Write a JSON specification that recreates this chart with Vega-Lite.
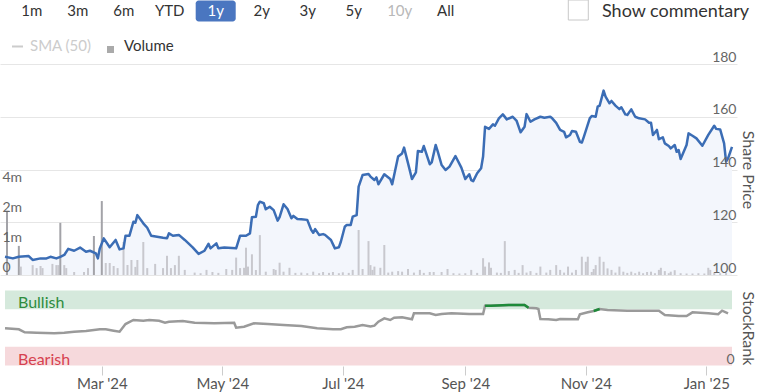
{
  "$schema": "https://vega.github.io/schema/vega-lite/v6.json",
  "width": 737,
  "height": 366,
  "autosize": {"type": "none"},
  "padding": {"left": 0, "top": 0, "right": 21, "bottom": 26},
  "background": "white",
  "config": {"font": "Lato", "view": {"stroke": null}},
  "datasets": {
    "buttons": [
      {"label": "1m", "state": "normal", "row": "nav"},
      {"label": "3m", "state": "normal", "row": "nav"},
      {"label": "6m", "state": "normal", "row": "nav"},
      {"label": "YTD", "state": "normal", "row": "nav"},
      {"label": "1y", "state": "active", "row": "nav"},
      {"label": "2y", "state": "normal", "row": "nav"},
      {"label": "3y", "state": "normal", "row": "nav"},
      {"label": "5y", "state": "normal", "row": "nav"},
      {"label": "10y", "state": "disabled", "row": "nav"},
      {"label": "All", "state": "normal", "row": "nav"}
    ],
    "legend": [
      {"item": "SMA (50)", "state": "off", "row": "legend"},
      {"item": "Volume", "state": "on", "row": "legend"}
    ],
    "commentary": [
      {"label": "Show commentary", "row": "nav"}
    ],
    "bands": [
      {"zone": "Bullish", "lo": 75, "hi": 100},
      {"zone": "Bearish", "lo": 0, "hi": 25}
    ],
    "price": [
      {"date": "2024-01-12", "price": 106.9},
      {"date": "2024-01-16", "price": 106.3},
      {"date": "2024-01-19", "price": 106.9},
      {"date": "2024-01-24", "price": 107.2},
      {"date": "2024-01-26", "price": 105.7},
      {"date": "2024-01-30", "price": 106.3},
      {"date": "2024-02-02", "price": 106.3},
      {"date": "2024-02-04", "price": 106.9},
      {"date": "2024-02-07", "price": 106.3},
      {"date": "2024-02-09", "price": 106.9},
      {"date": "2024-02-11", "price": 107.6},
      {"date": "2024-02-13", "price": 109.9},
      {"date": "2024-02-16", "price": 109.2},
      {"date": "2024-02-19", "price": 110.4},
      {"date": "2024-02-22", "price": 108.8},
      {"date": "2024-02-24", "price": 109.2},
      {"date": "2024-02-27", "price": 108.2},
      {"date": "2024-02-28", "price": 106.3},
      {"date": "2024-02-29", "price": 110.1},
      {"date": "2024-03-02", "price": 113.9},
      {"date": "2024-03-05", "price": 110.5},
      {"date": "2024-03-08", "price": 113.3},
      {"date": "2024-03-10", "price": 109.7},
      {"date": "2024-03-12", "price": 110.1},
      {"date": "2024-03-13", "price": 114.9},
      {"date": "2024-03-15", "price": 114.9},
      {"date": "2024-03-17", "price": 120.2},
      {"date": "2024-03-18", "price": 119.8},
      {"date": "2024-03-19", "price": 122.7},
      {"date": "2024-03-22", "price": 119.6},
      {"date": "2024-03-24", "price": 117.9},
      {"date": "2024-03-26", "price": 114.9},
      {"date": "2024-04-01", "price": 114.1},
      {"date": "2024-04-03", "price": 113.9},
      {"date": "2024-04-04", "price": 115.8},
      {"date": "2024-04-06", "price": 114.9},
      {"date": "2024-04-09", "price": 115.2},
      {"date": "2024-04-12", "price": 113.3},
      {"date": "2024-04-16", "price": 110.5},
      {"date": "2024-04-19", "price": 108.0},
      {"date": "2024-04-22", "price": 109.2},
      {"date": "2024-04-24", "price": 111.8},
      {"date": "2024-04-25", "price": 110.1},
      {"date": "2024-04-28", "price": 112.0},
      {"date": "2024-04-29", "price": 110.1},
      {"date": "2024-05-02", "price": 110.4},
      {"date": "2024-05-08", "price": 110.1},
      {"date": "2024-05-10", "price": 114.9},
      {"date": "2024-05-13", "price": 114.9},
      {"date": "2024-05-15", "price": 115.8},
      {"date": "2024-05-16", "price": 121.9},
      {"date": "2024-05-18", "price": 122.1},
      {"date": "2024-05-19", "price": 126.5},
      {"date": "2024-05-20", "price": 127.8},
      {"date": "2024-05-22", "price": 127.2},
      {"date": "2024-05-23", "price": 124.9},
      {"date": "2024-05-25", "price": 125.9},
      {"date": "2024-05-27", "price": 124.6},
      {"date": "2024-05-29", "price": 120.6},
      {"date": "2024-05-30", "price": 121.9},
      {"date": "2024-06-01", "price": 126.8},
      {"date": "2024-06-03", "price": 125.0},
      {"date": "2024-06-05", "price": 121.5},
      {"date": "2024-06-06", "price": 122.4},
      {"date": "2024-06-08", "price": 121.2},
      {"date": "2024-06-10", "price": 121.1},
      {"date": "2024-06-13", "price": 120.9},
      {"date": "2024-06-15", "price": 117.1},
      {"date": "2024-06-16", "price": 116.0},
      {"date": "2024-06-17", "price": 117.4},
      {"date": "2024-06-19", "price": 115.2},
      {"date": "2024-06-21", "price": 115.5},
      {"date": "2024-06-22", "price": 115.2},
      {"date": "2024-06-25", "price": 113.3},
      {"date": "2024-06-27", "price": 110.1},
      {"date": "2024-06-29", "price": 110.5},
      {"date": "2024-06-30", "price": 112.6},
      {"date": "2024-07-02", "price": 118.3},
      {"date": "2024-07-03", "price": 119.0},
      {"date": "2024-07-05", "price": 119.0},
      {"date": "2024-07-06", "price": 122.1},
      {"date": "2024-07-08", "price": 122.7},
      {"date": "2024-07-09", "price": 133.5},
      {"date": "2024-07-11", "price": 137.9},
      {"date": "2024-07-14", "price": 138.3},
      {"date": "2024-07-15", "price": 137.3},
      {"date": "2024-07-17", "price": 136.0},
      {"date": "2024-07-18", "price": 137.0},
      {"date": "2024-07-19", "price": 134.4},
      {"date": "2024-07-22", "price": 138.2},
      {"date": "2024-07-25", "price": 136.4},
      {"date": "2024-07-26", "price": 134.4},
      {"date": "2024-07-29", "price": 144.9},
      {"date": "2024-07-31", "price": 146.1},
      {"date": "2024-08-01", "price": 148.3},
      {"date": "2024-08-03", "price": 142.4},
      {"date": "2024-08-05", "price": 136.4},
      {"date": "2024-08-07", "price": 138.9},
      {"date": "2024-08-08", "price": 147.0},
      {"date": "2024-08-10", "price": 146.7},
      {"date": "2024-08-11", "price": 148.9},
      {"date": "2024-08-14", "price": 142.0},
      {"date": "2024-08-15", "price": 142.7},
      {"date": "2024-08-17", "price": 149.3},
      {"date": "2024-08-18", "price": 147.0},
      {"date": "2024-08-20", "price": 141.7},
      {"date": "2024-08-22", "price": 139.8},
      {"date": "2024-08-24", "price": 141.1},
      {"date": "2024-08-27", "price": 145.1},
      {"date": "2024-08-30", "price": 140.7},
      {"date": "2024-09-01", "price": 136.4},
      {"date": "2024-09-03", "price": 138.2},
      {"date": "2024-09-04", "price": 136.0},
      {"date": "2024-09-05", "price": 135.6},
      {"date": "2024-09-07", "price": 138.6},
      {"date": "2024-09-09", "price": 140.5},
      {"date": "2024-09-10", "price": 144.9},
      {"date": "2024-09-11", "price": 156.2},
      {"date": "2024-09-13", "price": 155.4},
      {"date": "2024-09-15", "price": 157.1},
      {"date": "2024-09-16", "price": 156.6},
      {"date": "2024-09-18", "price": 159.4},
      {"date": "2024-09-20", "price": 160.9},
      {"date": "2024-09-22", "price": 159.0},
      {"date": "2024-09-25", "price": 160.0},
      {"date": "2024-09-27", "price": 158.4},
      {"date": "2024-09-29", "price": 154.1},
      {"date": "2024-10-01", "price": 156.2},
      {"date": "2024-10-02", "price": 161.0},
      {"date": "2024-10-04", "price": 158.1},
      {"date": "2024-10-06", "price": 159.0},
      {"date": "2024-10-09", "price": 160.0},
      {"date": "2024-10-11", "price": 159.6},
      {"date": "2024-10-14", "price": 160.0},
      {"date": "2024-10-15", "price": 159.4},
      {"date": "2024-10-17", "price": 157.7},
      {"date": "2024-10-19", "price": 155.0},
      {"date": "2024-10-21", "price": 154.3},
      {"date": "2024-10-22", "price": 152.2},
      {"date": "2024-10-24", "price": 153.1},
      {"date": "2024-10-25", "price": 154.6},
      {"date": "2024-10-27", "price": 154.3},
      {"date": "2024-10-29", "price": 150.5},
      {"date": "2024-10-30", "price": 150.2},
      {"date": "2024-10-31", "price": 152.4},
      {"date": "2024-11-03", "price": 159.4},
      {"date": "2024-11-04", "price": 160.3},
      {"date": "2024-11-06", "price": 160.0},
      {"date": "2024-11-07", "price": 163.8},
      {"date": "2024-11-08", "price": 164.2},
      {"date": "2024-11-10", "price": 169.9},
      {"date": "2024-11-11", "price": 167.6},
      {"date": "2024-11-13", "price": 165.1},
      {"date": "2024-11-14", "price": 166.0},
      {"date": "2024-11-16", "price": 164.2},
      {"date": "2024-11-18", "price": 162.9},
      {"date": "2024-11-19", "price": 163.6},
      {"date": "2024-11-21", "price": 160.9},
      {"date": "2024-11-22", "price": 160.7},
      {"date": "2024-11-24", "price": 162.8},
      {"date": "2024-11-26", "price": 160.0},
      {"date": "2024-11-28", "price": 159.4},
      {"date": "2024-12-01", "price": 159.0},
      {"date": "2024-12-03", "price": 157.7},
      {"date": "2024-12-04", "price": 157.7},
      {"date": "2024-12-05", "price": 153.1},
      {"date": "2024-12-07", "price": 155.0},
      {"date": "2024-12-08", "price": 151.5},
      {"date": "2024-12-10", "price": 152.2},
      {"date": "2024-12-11", "price": 149.9},
      {"date": "2024-12-13", "price": 148.9},
      {"date": "2024-12-14", "price": 148.0},
      {"date": "2024-12-16", "price": 149.3},
      {"date": "2024-12-17", "price": 146.7},
      {"date": "2024-12-18", "price": 147.4},
      {"date": "2024-12-19", "price": 144.0},
      {"date": "2024-12-22", "price": 149.3},
      {"date": "2024-12-23", "price": 153.7},
      {"date": "2024-12-25", "price": 152.8},
      {"date": "2024-12-27", "price": 151.8},
      {"date": "2024-12-30", "price": 149.0},
      {"date": "2025-01-02", "price": 153.1},
      {"date": "2025-01-05", "price": 156.6},
      {"date": "2025-01-06", "price": 155.4},
      {"date": "2025-01-08", "price": 155.2},
      {"date": "2025-01-10", "price": 149.9},
      {"date": "2025-01-11", "price": 143.0},
      {"date": "2025-01-12", "price": 144.2},
      {"date": "2025-01-14", "price": 148.6}
    ],
    "volume": [
      {"date": "2024-01-13", "volume": 2220000},
      {"date": "2024-01-19", "volume": 970000},
      {"date": "2024-01-20", "volume": 280000},
      {"date": "2024-01-26", "volume": 330000},
      {"date": "2024-01-28", "volume": 230000},
      {"date": "2024-01-30", "volume": 300000},
      {"date": "2024-01-31", "volume": 230000},
      {"date": "2024-02-05", "volume": 370000},
      {"date": "2024-02-07", "volume": 330000},
      {"date": "2024-02-08", "volume": 330000},
      {"date": "2024-02-09", "volume": 1740000},
      {"date": "2024-02-11", "volume": 330000},
      {"date": "2024-02-12", "volume": 230000},
      {"date": "2024-02-16", "volume": 100000},
      {"date": "2024-02-21", "volume": 100000},
      {"date": "2024-02-23", "volume": 230000},
      {"date": "2024-02-26", "volume": 1300000},
      {"date": "2024-03-01", "volume": 2930000},
      {"date": "2024-03-03", "volume": 400000},
      {"date": "2024-03-05", "volume": 400000},
      {"date": "2024-03-07", "volume": 300000},
      {"date": "2024-03-09", "volume": 230000},
      {"date": "2024-03-12", "volume": 1100000},
      {"date": "2024-03-14", "volume": 330000},
      {"date": "2024-03-16", "volume": 500000},
      {"date": "2024-03-18", "volume": 270000},
      {"date": "2024-03-19", "volume": 500000},
      {"date": "2024-03-22", "volume": 1100000},
      {"date": "2024-03-24", "volume": 230000},
      {"date": "2024-03-28", "volume": 370000},
      {"date": "2024-04-01", "volume": 230000},
      {"date": "2024-04-03", "volume": 640000},
      {"date": "2024-04-05", "volume": 230000},
      {"date": "2024-04-07", "volume": 330000},
      {"date": "2024-04-09", "volume": 640000},
      {"date": "2024-04-12", "volume": 170000},
      {"date": "2024-04-17", "volume": 80000},
      {"date": "2024-04-20", "volume": 60000},
      {"date": "2024-04-23", "volume": 170000},
      {"date": "2024-04-26", "volume": 100000},
      {"date": "2024-04-29", "volume": 70000},
      {"date": "2024-05-03", "volume": 200000},
      {"date": "2024-05-06", "volume": 170000},
      {"date": "2024-05-08", "volume": 580000},
      {"date": "2024-05-10", "volume": 230000},
      {"date": "2024-05-12", "volume": 240000},
      {"date": "2024-05-13", "volume": 910000},
      {"date": "2024-05-14", "volume": 280000},
      {"date": "2024-05-16", "volume": 690000},
      {"date": "2024-05-18", "volume": 170000},
      {"date": "2024-05-20", "volume": 1330000},
      {"date": "2024-05-23", "volume": 110000},
      {"date": "2024-05-27", "volume": 200000},
      {"date": "2024-05-28", "volume": 170000},
      {"date": "2024-05-30", "volume": 410000},
      {"date": "2024-06-01", "volume": 110000},
      {"date": "2024-06-04", "volume": 240000},
      {"date": "2024-06-07", "volume": 70000},
      {"date": "2024-06-10", "volume": 80000},
      {"date": "2024-06-13", "volume": 60000},
      {"date": "2024-06-16", "volume": 110000},
      {"date": "2024-06-19", "volume": 60000},
      {"date": "2024-06-21", "volume": 100000},
      {"date": "2024-06-24", "volume": 70000},
      {"date": "2024-06-26", "volume": 100000},
      {"date": "2024-06-29", "volume": 60000},
      {"date": "2024-07-01", "volume": 90000},
      {"date": "2024-07-04", "volume": 70000},
      {"date": "2024-07-06", "volume": 170000},
      {"date": "2024-07-09", "volume": 1500000},
      {"date": "2024-07-11", "volume": 200000},
      {"date": "2024-07-14", "volume": 1130000},
      {"date": "2024-07-15", "volume": 330000},
      {"date": "2024-07-16", "volume": 170000},
      {"date": "2024-07-17", "volume": 280000},
      {"date": "2024-07-20", "volume": 240000},
      {"date": "2024-07-22", "volume": 1000000},
      {"date": "2024-07-24", "volume": 80000},
      {"date": "2024-07-26", "volume": 110000},
      {"date": "2024-07-29", "volume": 130000},
      {"date": "2024-07-31", "volume": 110000},
      {"date": "2024-08-03", "volume": 200000},
      {"date": "2024-08-06", "volume": 80000},
      {"date": "2024-08-09", "volume": 170000},
      {"date": "2024-08-11", "volume": 70000},
      {"date": "2024-08-14", "volume": 100000},
      {"date": "2024-08-16", "volume": 100000},
      {"date": "2024-08-20", "volume": 100000},
      {"date": "2024-08-23", "volume": 200000},
      {"date": "2024-08-26", "volume": 60000},
      {"date": "2024-08-29", "volume": 50000},
      {"date": "2024-09-01", "volume": 60000},
      {"date": "2024-09-04", "volume": 170000},
      {"date": "2024-09-07", "volume": 70000},
      {"date": "2024-09-10", "volume": 560000},
      {"date": "2024-09-11", "volume": 280000},
      {"date": "2024-09-13", "volume": 420000},
      {"date": "2024-09-14", "volume": 240000},
      {"date": "2024-09-17", "volume": 80000},
      {"date": "2024-09-19", "volume": 70000},
      {"date": "2024-09-21", "volume": 1130000},
      {"date": "2024-09-23", "volume": 130000},
      {"date": "2024-09-26", "volume": 170000},
      {"date": "2024-09-28", "volume": 70000},
      {"date": "2024-09-30", "volume": 330000},
      {"date": "2024-10-02", "volume": 80000},
      {"date": "2024-10-04", "volume": 130000},
      {"date": "2024-10-07", "volume": 70000},
      {"date": "2024-10-09", "volume": 280000},
      {"date": "2024-10-12", "volume": 80000},
      {"date": "2024-10-14", "volume": 170000},
      {"date": "2024-10-17", "volume": 330000},
      {"date": "2024-10-19", "volume": 170000},
      {"date": "2024-10-21", "volume": 80000},
      {"date": "2024-10-23", "volume": 280000},
      {"date": "2024-10-25", "volume": 80000},
      {"date": "2024-10-27", "volume": 170000},
      {"date": "2024-10-30", "volume": 610000},
      {"date": "2024-11-01", "volume": 440000},
      {"date": "2024-11-02", "volume": 610000},
      {"date": "2024-11-04", "volume": 100000},
      {"date": "2024-11-05", "volume": 200000},
      {"date": "2024-11-06", "volume": 330000},
      {"date": "2024-11-08", "volume": 610000},
      {"date": "2024-11-10", "volume": 440000},
      {"date": "2024-11-12", "volume": 220000},
      {"date": "2024-11-14", "volume": 170000},
      {"date": "2024-11-16", "volume": 80000},
      {"date": "2024-11-18", "volume": 280000},
      {"date": "2024-11-20", "volume": 110000},
      {"date": "2024-11-22", "volume": 70000},
      {"date": "2024-11-24", "volume": 110000},
      {"date": "2024-11-26", "volume": 60000},
      {"date": "2024-11-28", "volume": 110000},
      {"date": "2024-11-30", "volume": 60000},
      {"date": "2024-12-02", "volume": 100000},
      {"date": "2024-12-04", "volume": 110000},
      {"date": "2024-12-06", "volume": 60000},
      {"date": "2024-12-08", "volume": 170000},
      {"date": "2024-12-09", "volume": 240000},
      {"date": "2024-12-11", "volume": 130000},
      {"date": "2024-12-13", "volume": 60000},
      {"date": "2024-12-14", "volume": 110000},
      {"date": "2024-12-16", "volume": 160000},
      {"date": "2024-12-19", "volume": 60000},
      {"date": "2024-12-22", "volume": 50000},
      {"date": "2024-12-25", "volume": 50000},
      {"date": "2024-12-28", "volume": 60000},
      {"date": "2024-12-31", "volume": 50000},
      {"date": "2025-01-02", "volume": 240000},
      {"date": "2025-01-03", "volume": 170000},
      {"date": "2025-01-05", "volume": 70000},
      {"date": "2025-01-08", "volume": 60000},
      {"date": "2025-01-11", "volume": 80000}
    ],
    "rank": [
      {"date": "2024-01-12", "rank": 49.6},
      {"date": "2024-01-19", "rank": 48.3},
      {"date": "2024-01-22", "rank": 44.3},
      {"date": "2024-01-28", "rank": 43.7},
      {"date": "2024-02-06", "rank": 42.9},
      {"date": "2024-02-11", "rank": 43.7},
      {"date": "2024-02-16", "rank": 45.1},
      {"date": "2024-02-22", "rank": 46.0},
      {"date": "2024-02-29", "rank": 48.3},
      {"date": "2024-03-03", "rank": 48.3},
      {"date": "2024-03-07", "rank": 46.4},
      {"date": "2024-03-10", "rank": 45.1},
      {"date": "2024-03-13", "rank": 55.3},
      {"date": "2024-03-17", "rank": 60.7},
      {"date": "2024-03-22", "rank": 59.7},
      {"date": "2024-03-25", "rank": 60.7},
      {"date": "2024-03-30", "rank": 59.7},
      {"date": "2024-04-02", "rank": 57.1},
      {"date": "2024-04-04", "rank": 58.4},
      {"date": "2024-04-11", "rank": 59.3},
      {"date": "2024-04-17", "rank": 57.1},
      {"date": "2024-04-27", "rank": 56.3},
      {"date": "2024-05-07", "rank": 57.1},
      {"date": "2024-05-08", "rank": 50.4},
      {"date": "2024-05-12", "rank": 51.7},
      {"date": "2024-05-17", "rank": 56.3},
      {"date": "2024-05-24", "rank": 55.3},
      {"date": "2024-06-01", "rank": 54.0},
      {"date": "2024-06-10", "rank": 52.7},
      {"date": "2024-06-18", "rank": 49.6},
      {"date": "2024-06-26", "rank": 48.3},
      {"date": "2024-06-30", "rank": 48.3},
      {"date": "2024-07-03", "rank": 50.9},
      {"date": "2024-07-07", "rank": 51.7},
      {"date": "2024-07-11", "rank": 54.0},
      {"date": "2024-07-15", "rank": 52.0},
      {"date": "2024-07-17", "rank": 53.1},
      {"date": "2024-07-19", "rank": 58.4},
      {"date": "2024-07-22", "rank": 62.9},
      {"date": "2024-07-25", "rank": 60.7},
      {"date": "2024-07-27", "rank": 63.7},
      {"date": "2024-07-31", "rank": 64.3},
      {"date": "2024-08-05", "rank": 61.6},
      {"date": "2024-08-06", "rank": 69.6},
      {"date": "2024-08-14", "rank": 69.6},
      {"date": "2024-08-17", "rank": 67.3},
      {"date": "2024-08-20", "rank": 68.7},
      {"date": "2024-08-25", "rank": 69.6},
      {"date": "2024-09-03", "rank": 68.7},
      {"date": "2024-09-10", "rank": 68.7},
      {"date": "2024-09-11", "rank": 79.7},
      {"date": "2024-09-14", "rank": 79.7},
      {"date": "2024-09-23", "rank": 80.7},
      {"date": "2024-10-01", "rank": 80.7},
      {"date": "2024-10-03", "rank": 77.1},
      {"date": "2024-10-07", "rank": 76.3},
      {"date": "2024-10-08", "rank": 75.3},
      {"date": "2024-10-09", "rank": 62.0},
      {"date": "2024-10-13", "rank": 61.6},
      {"date": "2024-10-17", "rank": 60.7},
      {"date": "2024-10-19", "rank": 62.0},
      {"date": "2024-10-28", "rank": 61.6},
      {"date": "2024-10-29", "rank": 68.3},
      {"date": "2024-11-02", "rank": 70.9},
      {"date": "2024-11-05", "rank": 72.7},
      {"date": "2024-11-08", "rank": 75.3},
      {"date": "2024-11-12", "rank": 74.0},
      {"date": "2024-11-22", "rank": 73.1},
      {"date": "2024-12-08", "rank": 73.1},
      {"date": "2024-12-11", "rank": 67.3},
      {"date": "2024-12-18", "rank": 66.0},
      {"date": "2024-12-22", "rank": 66.0},
      {"date": "2024-12-25", "rank": 70.9},
      {"date": "2025-01-02", "rank": 69.6},
      {"date": "2025-01-07", "rank": 68.3},
      {"date": "2025-01-09", "rank": 73.1},
      {"date": "2025-01-12", "rank": 69.6}
    ]
  },
  "layer": [
    {
      "data": {"name": "buttons"},
      "transform": [{"filter": "datum.state === 'active'"}],
      "mark": {"type": "rect", "color": "#4a76c0", "cornerRadius": 3},
      "encoding": {
        "x": {"field": "label", "type": "nominal", "sort": null, "axis": null,
              "scale": {"type": "band", "domain": ["1m","3m","6m","YTD","1y","2y","3y","5y","10y","All"], "range": [11.7, 465.7], "paddingInner": 0.13, "paddingOuter": 0}},
        "y": {"field": "row", "type": "nominal", "axis": null,
              "scale": {"type": "band", "domain": ["nav","legend"], "range": [0.5, 57], "paddingInner": 0.408, "paddingOuter": 0}}
      }
    },
    {
      "data": {"name": "buttons"},
      "mark": {"type": "text", "fontSize": 15, "align": "center", "baseline": "middle"},
      "encoding": {
        "x": {"field": "label", "type": "nominal", "sort": null, "axis": null,
              "scale": {"type": "band", "domain": ["1m","3m","6m","YTD","1y","2y","3y","5y","10y","All"], "range": [11.7, 465.7], "paddingInner": 0.13, "paddingOuter": 0}},
        "y": {"field": "row", "type": "nominal", "axis": null,
              "scale": {"type": "band", "domain": ["nav","legend"], "range": [0.5, 57], "paddingInner": 0.408, "paddingOuter": 0}},
        "text": {"field": "label"},
        "color": {"field": "state", "type": "nominal", "legend": null,
                  "scale": {"domain": ["active","normal","disabled"], "range": ["#ffffff","#333333","#b8b8b8"]}}
      }
    },
    {
      "data": {"name": "legend"},
      "mark": {"type": "text", "fontSize": 15, "align": "left", "baseline": "middle"},
      "encoding": {
        "x": {"field": "item", "type": "nominal", "sort": null, "axis": null,
              "scale": {"type": "point", "domain": ["SMA (50)","Volume"], "range": [30, 124], "padding": 0}},
        "y": {"field": "row", "type": "nominal", "axis": null,
              "scale": {"type": "band", "domain": ["nav","legend"], "range": [0.5, 57], "paddingInner": 0.408, "paddingOuter": 0}},
        "text": {"field": "item"},
        "color": {"field": "state", "type": "nominal", "legend": null,
                  "scale": {"domain": ["off","on"], "range": ["#cccccc","#333333"]}}
      }
    },
    {
      "data": {"name": "legend"},
      "transform": [{"filter": "datum.item === 'SMA (50)'"}],
      "mark": {"type": "point", "shape": "stroke", "size": 121, "filled": false, "stroke": "#cccccc", "strokeWidth": 2, "opacity": 1, "xOffset": -12.5},
      "encoding": {
        "x": {"field": "item", "type": "nominal", "sort": null, "axis": null,
              "scale": {"type": "point", "domain": ["SMA (50)","Volume"], "range": [30, 124], "padding": 0}},
        "y": {"field": "row", "type": "nominal", "axis": null,
              "scale": {"type": "band", "domain": ["nav","legend"], "range": [0.5, 57], "paddingInner": 0.408, "paddingOuter": 0}}
      }
    },
    {
      "data": {"name": "legend"},
      "transform": [{"filter": "datum.item === 'Volume'"}],
      "mark": {"type": "point", "shape": "square", "size": 49, "filled": true, "color": "#aaaaaa", "opacity": 1, "xOffset": -13.5, "yOffset": 3},
      "encoding": {
        "x": {"field": "item", "type": "nominal", "sort": null, "axis": null,
              "scale": {"type": "point", "domain": ["SMA (50)","Volume"], "range": [30, 124], "padding": 0}},
        "y": {"field": "row", "type": "nominal", "axis": null,
              "scale": {"type": "band", "domain": ["nav","legend"], "range": [0.5, 57], "paddingInner": 0.408, "paddingOuter": 0}}
      }
    },
    {
      "data": {"name": "commentary"},
      "mark": {"type": "text", "fontSize": 18, "align": "left", "baseline": "middle", "color": "#333333"},
      "encoding": {
        "x": {"field": "label", "type": "nominal", "axis": null,
              "scale": {"type": "point", "domain": ["Show commentary"], "range": [598, 606]}},
        "y": {"field": "row", "type": "nominal", "axis": null,
              "scale": {"type": "band", "domain": ["nav","legend"], "range": [1.5, 58], "paddingInner": 0.408, "paddingOuter": 0}},
        "text": {"field": "label"}
      }
    },
    {
      "data": {"name": "commentary"},
      "mark": {"type": "point", "shape": "square", "size": 400, "filled": false, "stroke": "#c8c8c8", "strokeWidth": 1, "opacity": 1, "xOffset": -23.7, "yOffset": -1},
      "encoding": {
        "x": {"field": "label", "type": "nominal", "axis": null,
              "scale": {"type": "point", "domain": ["Show commentary"], "range": [598, 606]}},
        "y": {"field": "row", "type": "nominal", "axis": null,
              "scale": {"type": "band", "domain": ["nav","legend"], "range": [0.5, 57], "paddingInner": 0.408, "paddingOuter": 0}}
      }
    },
    {
      "resolve": {"scale": {"y": "independent"}},
      "layer": [
        {
          "data": {"name": "price"},
          "mark": {"type": "area", "color": "#f3f6fc"},
          "encoding": {
            "x": {"field": "date", "type": "temporal",
                  "scale": {"domain": [{"year": 2024, "month": 1, "date": 12}, {"year": 2025, "month": 1, "date": 14}]},
                  "axis": {"title": null, "format": "%b '%y", "tickCount": {"interval": "month", "step": 2}, "domain": false, "grid": false, "ticks": true, "tickColor": "#cccccc", "tickSize": 9, "labelFontSize": 15, "labelColor": "#555555", "labelPadding": 1, "labelFlush": false, "labelOverlap": false}},
            "y": {"field": "price", "type": "quantitative",
                  "scale": {"domain": [100, 180], "range": [275, 64], "nice": false, "zero": false},
                  "axis": {"orient": "right", "title": null, "values": [100, 120, 140, 160, 180], "grid": true, "gridColor": "#e6e6e6", "labels": false, "domain": false, "ticks": false, "tickSize": 0, "zindex": 0}},
            "y2": {"datum": 100}
          }
        },
        {
          "data": {"name": "volume"},
          "mark": {"type": "bar", "width": 2},
          "encoding": {
            "x": {"field": "date", "type": "temporal",
                  "scale": {"domain": [{"year": 2024, "month": 1, "date": 12}, {"year": 2025, "month": 1, "date": 14}]},
                  "axis": {"title": null, "format": "%b '%y", "tickCount": {"interval": "month", "step": 2}, "domain": false, "grid": false, "ticks": true, "tickColor": "#cccccc", "tickSize": 9, "labelFontSize": 15, "labelColor": "#555555", "labelPadding": 1, "labelFlush": false, "labelOverlap": false}},
            "y": {"field": "volume", "type": "quantitative",
                  "scale": {"domain": [0, 1000000, 2000000, 4000000], "range": [275, 245, 215, 185], "nice": false, "zero": false},
                  "axis": {"orient": "left", "title": null, "values": [0, 1000000, 2000000, 4000000], "labelExpr": "datum.value == 0 ? '0' : format(datum.value / 1000000, 'd') + 'm'", "grid": false, "domain": false, "ticks": false, "tickSize": 0, "labelAlign": "left", "labelBaseline": "alphabetic", "labelOffset": -3.3, "labelPadding": -2, "labelFontSize": 14, "labelColor": "#666666", "zindex": 1}},
            "y2": {"datum": 0},
            "color": {"condition": {"test": "datum.date < datetime(2024, 2, 2) && datum.volume > 900000", "value": "#a3a3a8"}, "value": "#c8c8ce"}
          }
        },
        {
          "data": {"name": "price"},
          "mark": {"type": "line", "color": "#3b6db5", "strokeWidth": 2.5, "strokeJoin": "round"},
          "encoding": {
            "x": {"field": "date", "type": "temporal",
                  "scale": {"domain": [{"year": 2024, "month": 1, "date": 12}, {"year": 2025, "month": 1, "date": 14}]},
                  "axis": {"title": null, "format": "%b '%y", "tickCount": {"interval": "month", "step": 2}, "domain": false, "grid": false, "ticks": true, "tickColor": "#cccccc", "tickSize": 9, "labelFontSize": 15, "labelColor": "#555555", "labelPadding": 1, "labelFlush": false, "labelOverlap": false}},
            "y": {"field": "price", "type": "quantitative",
                  "scale": {"domain": [100, 180], "range": [275, 64], "nice": false, "zero": false},
                  "axis": {"orient": "right", "title": "Share Price", "values": [100, 120, 140, 160, 180], "grid": false, "domain": false, "ticks": false, "tickSize": 0, "labelAlign": "right", "labelBaseline": "alphabetic", "labelOffset": -3, "labelPadding": -1, "labelFontSize": 14, "labelColor": "#666666", "titleFontSize": 16, "titleFontWeight": "normal", "titleColor": "#555555", "titlePadding": 2, "zindex": 1}}
          }
        },
        {
          "data": {"name": "bands"},
          "mark": {"type": "rect"},
          "encoding": {
            "x": {"datum": {"year": 2024, "month": 1, "date": 12}, "type": "temporal"},
            "x2": {"datum": {"year": 2025, "month": 1, "date": 14}},
            "y": {"field": "lo", "type": "quantitative", "axis": null,
                  "scale": {"domain": [0, 100], "range": [365.5, 290.5], "nice": false, "zero": false}},
            "y2": {"field": "hi"},
            "color": {"condition": {"test": "datum.zone === 'Bullish'", "value": "#d5e9dc"}, "value": "#f6d9dc"}
          }
        },
        {
          "data": {"name": "bands"},
          "mark": {"type": "text", "align": "left", "baseline": "alphabetic", "dx": 13, "dy": -1, "fontSize": 16},
          "encoding": {
            "x": {"datum": {"year": 2024, "month": 1, "date": 12}, "type": "temporal"},
            "y": {"field": "lo", "type": "quantitative", "axis": null,
                  "scale": {"domain": [0, 100], "range": [365.5, 290.5], "nice": false, "zero": false}},
            "text": {"field": "zone"},
            "color": {"condition": {"test": "datum.zone === 'Bullish'", "value": "#2e8c3e"}, "value": "#d6414f"}
          }
        },
        {
          "mark": {"type": "rule", "color": "#e6e6e6", "strokeWidth": 1},
          "encoding": {
            "y": {"datum": 102, "type": "quantitative", "axis": null,
                  "scale": {"domain": [0, 100], "range": [365.5, 290.5], "nice": false, "zero": false}}
          }
        },
        {
          "data": {"name": "rank"},
          "mark": {"type": "line", "color": "#9a9a9a", "strokeWidth": 2.5},
          "encoding": {
            "x": {"field": "date", "type": "temporal",
                  "scale": {"domain": [{"year": 2024, "month": 1, "date": 12}, {"year": 2025, "month": 1, "date": 14}]},
                  "axis": {"title": null, "format": "%b '%y", "tickCount": {"interval": "month", "step": 2}, "domain": false, "grid": false, "ticks": true, "tickColor": "#cccccc", "tickSize": 9, "labelFontSize": 15, "labelColor": "#555555", "labelPadding": 1, "labelFlush": false, "labelOverlap": false}},
            "y": {"field": "rank", "type": "quantitative",
                  "scale": {"domain": [0, 100], "range": [365.5, 290.5], "nice": false, "zero": false},
                  "axis": {"orient": "right", "title": "StockRank", "values": [0], "grid": false, "domain": false, "ticks": false, "tickSize": 0, "labelAlign": "right", "labelBaseline": "alphabetic", "labelOffset": -2, "labelPadding": -3, "labelFontSize": 14, "labelColor": "#666666", "titleFontSize": 16, "titleFontWeight": "normal", "titleColor": "#555555", "titlePadding": 2, "zindex": 1}}
          }
        },
        {
          "data": {"name": "rank"},
          "transform": [{"filter": {"field": "date", "range": [{"year": 2024, "month": 9, "date": 10, "hours": 12}, {"year": 2024, "month": 10, "date": 3, "hours": 12}]}}],
          "mark": {"type": "line", "color": "#1e8a39", "strokeWidth": 2.5},
          "encoding": {
            "x": {"field": "date", "type": "temporal",
                  "scale": {"domain": [{"year": 2024, "month": 1, "date": 12}, {"year": 2025, "month": 1, "date": 14}]},
                  "axis": {"title": null, "format": "%b '%y", "tickCount": {"interval": "month", "step": 2}, "domain": false, "grid": false, "ticks": true, "tickColor": "#cccccc", "tickSize": 9, "labelFontSize": 15, "labelColor": "#555555", "labelPadding": 1, "labelFlush": false, "labelOverlap": false}},
            "y": {"field": "rank", "type": "quantitative", "axis": null,
                  "scale": {"domain": [0, 100], "range": [365.5, 290.5], "nice": false, "zero": false}}
          }
        },
        {
          "data": {"name": "rank"},
          "transform": [{"filter": {"field": "date", "range": [{"year": 2024, "month": 11, "date": 4, "hours": 12}, {"year": 2024, "month": 11, "date": 8, "hours": 12}]}}],
          "mark": {"type": "line", "color": "#1e8a39", "strokeWidth": 2.5},
          "encoding": {
            "x": {"field": "date", "type": "temporal",
                  "scale": {"domain": [{"year": 2024, "month": 1, "date": 12}, {"year": 2025, "month": 1, "date": 14}]},
                  "axis": {"title": null, "format": "%b '%y", "tickCount": {"interval": "month", "step": 2}, "domain": false, "grid": false, "ticks": true, "tickColor": "#cccccc", "tickSize": 9, "labelFontSize": 15, "labelColor": "#555555", "labelPadding": 1, "labelFlush": false, "labelOverlap": false}},
            "y": {"field": "rank", "type": "quantitative", "axis": null,
                  "scale": {"domain": [0, 100], "range": [365.5, 290.5], "nice": false, "zero": false}}
          }
        }
      ]
    }
  ],
  "resolve": {"scale": {"x": "independent", "y": "independent", "color": "independent"}}
}
